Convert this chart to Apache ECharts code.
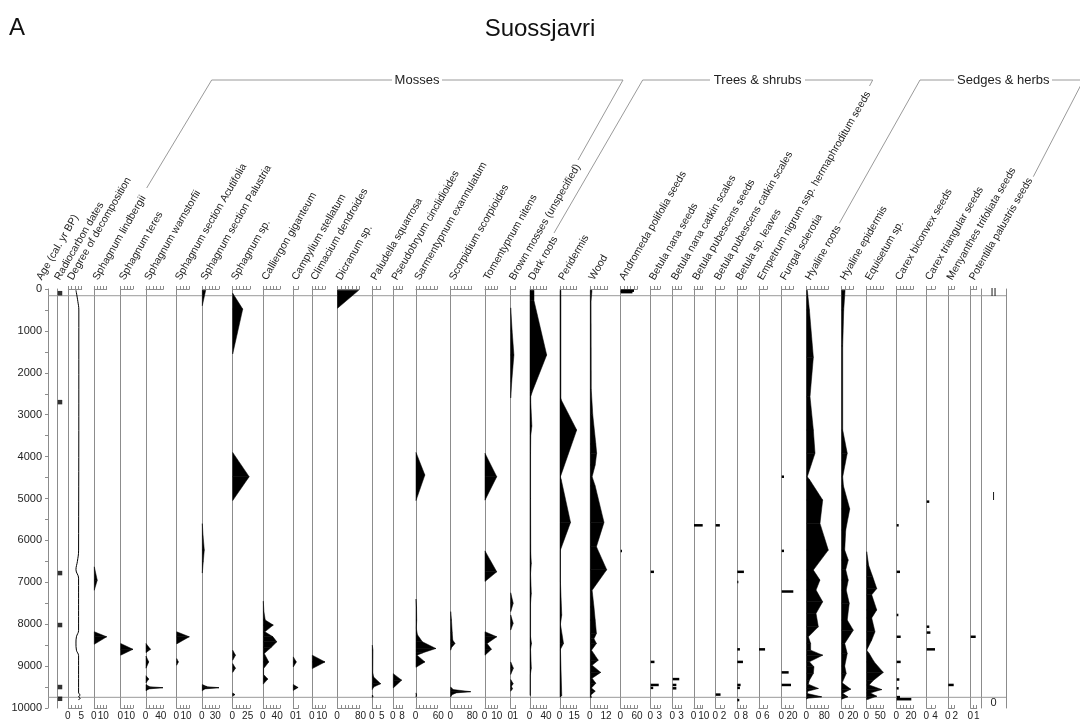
<!DOCTYPE html>
<html><head><meta charset="utf-8">
<script src="https://cdn.jsdelivr.net/npm/echarts@6/dist/echarts.min.js"></script>
<style>html,body{margin:0;padding:0;background:#fff}#c{width:1080px;height:727px}</style>
</head><body><div id="c"></div><script>
// ---------------- DATA (age cal. yr BP, value) ----------------
const ageTickLabels = [0,1000,2000,3000,4000,5000,6000,7000,8000,9000,10000];
const zoneNames = ['II','I','0'];
const zoneAges = [95, 4964, 9880];
const zoneBoundaries = [160, 9745];
const radiocarbonDates = [100, 2700, 6780, 8020, 9500, 9780];
const decomposition = [[30,3.2],[300,4.0],[500,4.4],[6250,4.3],[6500,3.8],[6700,3.2],[6900,4.3],[8150,4.3],[8300,3.4],[8450,3.2],[8620,3.4],[8750,4.3],[9640,4.3],[9690,5.0],[9730,4.3],[9770,5.0],[9800,4.2]];
const sphLindbergii = [[6630,0],[6950,3.7],[7190,0],[8180,0],[8300,15.5],[8480,0]];
const sphTeres = [[8460,0],[8600,16],[8740,0]];
const sphWarnstorfii = [[8460,0],[8600,13],[8680,0],[8760,0],[8900,8],[9050,0],[9230,0],[9310,8],[9400,0],[9440,0],[9490,10],[9515,49],[9545,8],[9590,0]];
const sphAcutifolia = [[8180,0],[8300,15],[8470,0],[8820,0],[8900,2],[8980,0]];
const sphPalustria = [[30,8.5],[400,0],[5600,0],[5900,2],[6230,5],[6500,2.5],[6780,0],[9440,0],[9490,12],[9515,42],[9545,6],[9590,0]];
const sphagnumSp = [[100,0],[480,18],[1550,0],[3900,0],[4480,29.5],[5050,0],[8620,0],[8740,5],[8860,0],[8940,0],[9050,5],[9150,0],[9640,0],[9680,4],[9720,0]];
const calliergon = [[7450,0],[7700,2],[7900,6],[8022,31],[8182,5],[8300,30],[8420,42],[8550,25],[8700,3],[8900,17],[9060,1],[9200,1],[9310,14],[9430,0]];
const campylium = [[8780,0],[8900,0.7],[9020,0],[9440,0],[9510,1.1],[9580,0]];
const climacium = [[8740,0],[8900,15],[9060,0]];
const dicranum = [[30,77],[460,0]];
const paludella = [[8500,0],[8620,0.4],[9150,0.3],[9260,0.8],[9420,5],[9500,0.8],[9560,0],[9690,0],[9720,0.5],[9750,0]];
const pseudobryum = [[9180,0],[9335,8.7],[9520,0]];
const sarmentypnum = [[3900,0],[4440,25],[5050,0],[7400,0],[7600,1.5],[7900,2],[8100,1],[8250,4],[8420,18],[8580,56],[8680,20],[8740,3],[8900,25],[9030,0],[9640,0],[9690,2],[9740,0]];
const scorpidium = [[7700,0],[7900,3],[8200,6],[8380,8],[8460,17],[8560,3],[8620,0],[9500,0],[9560,10],[9610,78],[9640,20],[9690,4],[9740,0]];
const tomentypnum = [[3920,0],[4480,11],[5040,0],[6250,0],[6750,11],[6980,0],[8180,0],[8300,11],[8460,2],[8600,6],[8740,0]];
const brownMosses = [[450,0],[1000,0.4],[1575,0.9],[2200,0.3],[2600,0],[7250,0],[7500,0.7],[7700,0],[7780,0],[7980,0.7],[8140,0],[8900,0],[9050,0.75],[9200,0],[9320,0],[9420,0.7],[9480,0.2],[9540,0.5],[9600,0]];
const darkRoots = [[30,10.7],[280,10.7],[1575,44.5],[2450,6],[2570,2],[2700,2],[3270,5],[3500,2],[3920,1.5],[5000,1.5],[6300,2],[6550,3.5],[6800,1.5],[7270,3.5],[7500,1.5],[8300,1.5],[8460,4],[8600,1.5],[9050,3.5],[9200,1],[9700,1]];
const peridermis = [[30,1],[2600,1],[2650,1.5],[3366,19],[4480,0.5],[4560,1.5],[5570,12],[6230,0.5],[7000,0.5],[7780,2],[8000,0.5],[8460,4],[8600,0.5],[9700,2],[9740,0.5]];
const wood = [[30,1.4],[300,0.6],[2400,0.8],[3000,2],[3700,4.5],[3920,5.2],[4200,4],[4480,1.5],[4700,4],[5570,11.2],[6150,5],[6700,13.4],[7190,1.5],[7590,3],[7900,4],[8220,5],[8350,3],[8460,5],[8620,1],[8860,6.5],[8980,1.5],[9150,8.5],[9290,1.5],[9410,4.5],[9520,1],[9600,4],[9690,0.5],[9750,1]];
const andromedaSeeds = [[40,52],[75,46],[6250,5]];
const betulaNanaSeeds = [[6750,1.3],[8900,1.5],[9450,3.2],[9520,1]];
const betulaNanaCatkin = [[9310,2.7],[9450,1.5],[9530,1.5]];
const betulaPubSeeds = [[5640,10]];
const betulaPubCatkin = [[5640,1.2],[9680,1.4]];
const betulaLeaves = [[6750,7.6],[6990,1.2],[8600,3],[8900,6.5],[9450,3.8],[9520,3],[9810,2.3]];
const empetrumSeeds = [[8600,5.4]];
const fungalSclerotia = [[4480,5],[6250,5],[7220,25],[9150,15],[9450,20]];
const hyalineRoots = [[30,3],[500,13],[1630,32],[2570,16],[3366,32],[3920,40],[4480,3],[4560,15],[5037,77],[5594,64],[6231,104],[6708,32],[6947,64],[7186,45],[7465,77],[7744,45],[8062,56],[8301,8],[8460,19],[8619,19],[8739,77],[8898,13],[9017,35],[9176,32],[9335,13],[9431,8],[9534,56],[9600,5],[9654,3],[9733,72],[9770,3],[9790,0]];
const hyalineEpidermis = [[30,6.7],[500,4],[1360,2],[3366,2],[3920,11],[4480,2],[4700,3.5],[5250,16],[5750,8],[6231,6],[6470,13],[6700,8],[6947,13],[7186,9],[7500,15],[7900,11],[8142,23],[8460,6],[8700,11],[9000,6],[9176,9],[9400,1],[9550,18],[9650,2],[9733,12],[9790,0]];
const equisetum = [[6270,0],[6600,8],[6870,24],[7150,40],[7300,20],[7660,40],[7850,20],[8180,33],[8380,20],[8619,0],[8700,10],[8900,30],[9150,66],[9350,25],[9450,10],[9560,60],[9640,15],[9720,40],[9780,10],[9800,0]];
const carexBiconvex = [[5640,3],[6750,5],[7780,2.5],[8300,6],[8900,6],[9320,4],[9530,3],[9740,5],[9790,22]];
const carexTriangular = [[5075,1.4],[8060,1.4],[8200,2],[8600,4.5]];
const menyanthesSeeds = [[9450,1.8]];
const potentillaSeeds = [[8300,1]];

// ---------------- LAYOUT ----------------
const FONT = '"Liberation Sans", Arial, Helvetica, sans-serif';
const GRAY = '#8c8c8c';
const TXT = '#222';
const TOP = 289, H = 419;

const panels = [
 {name:'Degree of decomposition', kind:'line', data:decomposition, left:68.3, width:13.4, max:5.6, lab:5, hx:75},
 {name:'Sphagnum lindbergii', kind:'area', data:sphLindbergii, left:94.3, width:12.4, max:15.5, lab:10},
 {name:'Sphagnum teres', kind:'area', data:sphTeres, left:120.7, width:12.3, max:16, lab:10},
 {name:'Sphagnum warnstorfii', kind:'area', data:sphWarnstorfii, left:146, width:17.3, max:50, lab:40},
 {name:'Sphagnum section Acutifolia', kind:'area', data:sphAcutifolia, left:176.7, width:12.6, max:15, lab:10},
 {name:'Sphagnum section Palustria', kind:'area', data:sphPalustria, left:202.3, width:16.7, max:42, lab:30},
 {name:'Sphagnum sp.', kind:'area', data:sphagnumSp, left:232.7, width:17.3, max:31, lab:25},
 {name:'Calliergon giganteum', kind:'area', data:calliergon, left:263.3, width:16.7, max:52, lab:40},
 {name:'Campylium stellatum', kind:'area', data:campylium, left:293.3, width:5, max:1.15, lab:1},
 {name:'Climacium dendroides', kind:'area', data:climacium, left:312.3, width:12.7, max:15, lab:10},
 {name:'Dicranum sp.', kind:'area', data:dicranum, left:337.5, width:22, max:80, lab:80},
 {name:'Paludella squarrosa', kind:'area', data:paludella, left:372.3, width:8.4, max:5, lab:5},
 {name:'Pseudobryum cinclidioides', kind:'area', data:pseudobryum, left:393.3, width:9.4, max:9.8, lab:8},
 {name:'Sarmentypnum exannulatum', kind:'area', data:sarmentypnum, left:416, width:21.3, max:60, lab:60},
 {name:'Scorpidium scorpioides', kind:'area', data:scorpidium, left:450.7, width:21, max:82, lab:80},
 {name:'Tomentypnum nitens', kind:'area', data:tomentypnum, left:485, width:12.3, max:11.5, lab:10},
 {name:'Brown mosses (unspecified)', kind:'area', data:brownMosses, left:510.7, width:5, max:1.4, lab:1},
 {name:'Dark roots', kind:'area', data:darkRoots, left:530, width:16.7, max:44.5, lab:40},
 {name:'Peridermis', kind:'area', data:peridermis, left:560, width:16.7, max:19, lab:15},
 {name:'Wood', kind:'area', data:wood, left:590.3, width:17.4, max:14.2, lab:12},
 {name:'Andromeda polifolia seeds', kind:'bar', data:andromedaSeeds, left:620.7, width:16.6, max:65, lab:60},
 {name:'Betula nana seeds', kind:'bar', data:betulaNanaSeeds, left:650.7, width:9.3, max:3.7, lab:3},
 {name:'Betula nana catkin scales', kind:'bar', data:betulaNanaCatkin, left:672.7, width:9, max:3.7, lab:3},
 {name:'Betula pubescens seeds', kind:'bar', data:betulaPubSeeds, left:694, width:8.7, max:10, lab:10},
 {name:'Betula pubescens catkin scales', kind:'bar', data:betulaPubCatkin, left:715.7, width:8.3, max:2.4, lab:2},
 {name:'Betula sp. leaves', kind:'bar', data:betulaLeaves, left:737.3, width:8.7, max:10, lab:8},
 {name:'Empetrum nigrum ssp. hermaphroditum seeds', kind:'bar', data:empetrumSeeds, left:759, width:8.3, max:7.4, lab:6},
 {name:'Fungal sclerotia', kind:'bar', data:fungalSclerotia, left:781.7, width:11.6, max:25, lab:20},
 {name:'Hyaline roots', kind:'area', data:hyalineRoots, left:806.7, width:21.6, max:104, lab:80},
 {name:'Hyaline epidermis', kind:'area', data:hyalineEpidermis, left:841.7, width:11.6, max:23, lab:20},
 {name:'Equisetum sp.', kind:'area', data:equisetum, left:866.7, width:16.6, max:66, lab:50},
 {name:'Carex biconvex seeds', kind:'bar', data:carexBiconvex, left:896.7, width:16.6, max:25, lab:20},
 {name:'Carex triangular seeds', kind:'bar', data:carexTriangular, left:926.7, width:8.3, max:4.5, lab:4},
 {name:'Menyanthes trifoliata seeds', kind:'bar', data:menyanthesSeeds, left:948.3, width:6, max:2, lab:2},
 {name:'Potentilla palustris seeds', kind:'bar', data:potentillaSeeds, left:970.7, width:6, max:1.2, lab:1}
];

const grids = [], xAxes = [], yAxes = [], series = [];
function addGrid(left, width){ grids.push({left:left, top:TOP, width:width, height:H}); return grids.length-1; }
function plainY(gi, showLine, pos){
  yAxes.push({type:'value', gridIndex:gi, inverse:true, min:0, max:10000, position:pos||'left',
    axisLine:{show:showLine, onZero:false, lineStyle:{color:GRAY, width:1}},
    axisTick:{show:false}, axisLabel:{show:false}, splitLine:{show:false}});
  return yAxes.length-1;
}
function plainX(gi, max){
  xAxes.push({type:'value', gridIndex:gi, min:0, max:max, show:false, splitLine:{show:false}});
  return xAxes.length-1;
}
function rulerTicks(max, width){
  const n = Math.max(1, Math.round(width/3.4)); const t = [];
  for (let i=0;i<=n;i++) t.push(+(max*i/n).toFixed(5));
  return t;
}

// overlay grid: age axis + zone boundary lines
const gO = addGrid(48, 958);
const xO = plainX(gO, 1);
yAxes.push({type:'value', gridIndex:gO, inverse:true, min:0, max:10000, interval:500, position:'left',
  axisLine:{show:true, onZero:false, lineStyle:{color:GRAY}},
  axisTick:{show:true, length:3, lineStyle:{color:GRAY}},
  axisLabel:{customValues:ageTickLabels, color:TXT, fontSize:11, fontFamily:FONT, margin:6,
    formatter:function(v){ return String(v); }},
  splitLine:{show:false}});
const yO = yAxes.length-1;
zoneBoundaries.forEach(function(a){
  series.push({type:'line', xAxisIndex:xO, yAxisIndex:yO, data:[[0,a],[1,a]], symbol:'none', silent:true,
    lineStyle:{color:'#9a9a9a', width:1}, z:1});
});

// radiocarbon dates
const gR = addGrid(57, 6);
const xR = plainX(gR, 1), yR = plainY(gR, true);
series.push({type:'scatter', xAxisIndex:xR, yAxisIndex:yR, symbol:'rect', symbolSize:4.5,
  itemStyle:{color:'#000'}, data:radiocarbonDates.map(function(a){return [0.5,a];}), z:3});

// zone column
const gZ = addGrid(981, 25);
const xZ = plainX(gZ, 1), yZ1 = plainY(gZ, true, 'left');
plainY(gZ, true, 'right');
series.push({type:'custom', coordinateSystem:'cartesian2d', xAxisIndex:xZ, yAxisIndex:yZ1,
  data:zoneAges.map(function(a){return [0.5,a];}),
  renderItem:function(params, api){
    const p = api.coord([api.value(0), api.value(1)]);
    return {type:'text', x:p[0], y:p[1], style:{text:zoneNames[params.dataIndex], fill:TXT, font:'11px '+FONT,
      textAlign:'center', textVerticalAlign:'middle', align:'center', verticalAlign:'middle'}};
  }, z:3});

function areaItem(params, api){
  const v0 = api.value(0), a0 = api.value(1), v1 = api.value(2), a1 = api.value(3);
  const pts = [api.coord([0,a0]), api.coord([v0,a0]), api.coord([v1,a1]), api.coord([0,a1])];
  return {type:'polygon', shape:{points:pts}, style:{fill:'#000', stroke:'#000', lineWidth:0.5}};
}
function barItem(params, api){
  const v = api.value(0), a = api.value(1);
  const p0 = api.coord([0,a]), p1 = api.coord([v,a]);
  return {type:'rect', shape:{x:p0[0], y:p0[1]-1.25, width:Math.max(1,p1[0]-p0[0]), height:2.5}, style:{fill:'#000'}};
}
function labelAxis(gi, max, value, pad){
  xAxes.push({type:'value', gridIndex:gi, min:0, max:max, position:'bottom', offset:0,
    axisLine:{show:false, onZero:false}, axisTick:{show:false},
    axisLabel:{show:true, customValues:[value], color:TXT, fontSize:10, fontFamily:FONT, margin:3, padding:pad,
      showMinLabel:true, showMaxLabel:true, hideOverlap:false},
    splitLine:{show:false}});
}

panels.forEach(function(p){
  const gi = addGrid(p.left, p.width);
  const ticks = rulerTicks(p.max, p.width);
  xAxes.push({type:'value', gridIndex:gi, min:0, max:p.max, position:'bottom',
    axisLine:{show:true, onZero:false, lineStyle:{color:GRAY}},
    axisTick:{show:true, inside:true, length:3, customValues:ticks, lineStyle:{color:GRAY}},
    axisLabel:{show:false}, splitLine:{show:false}});
  const xb = xAxes.length-1;
  labelAxis(gi, p.max, 0, [0,1,0,0]);
  labelAxis(gi, p.max, p.lab, [0,0,0,2]);
  xAxes.push({type:'value', gridIndex:gi, min:0, max:p.max, position:'top',
    axisLine:{show:true, onZero:false, lineStyle:{color:GRAY}},
    axisTick:{show:true, inside:false, length:3, customValues:ticks, lineStyle:{color:GRAY}},
    axisLabel:{show:false}, splitLine:{show:false}});
  const yi = plainY(gi, true);
  if (p.kind === 'line') {
    series.push({type:'line', xAxisIndex:xb, yAxisIndex:yi, data:p.data.map(function(d){return [d[1],d[0]];}),
      symbol:'none', smooth:0.4, lineStyle:{color:'#000', width:1}, z:3});
  } else if (p.kind === 'area') {
    const segs = [];
    for (let i=0;i<p.data.length-1;i++){
      const a = p.data[i], b = p.data[i+1];
      if (a[1] === 0 && b[1] === 0) continue;
      segs.push([a[1], a[0], b[1], b[0]]);
    }
    series.push({type:'custom', coordinateSystem:'cartesian2d', xAxisIndex:xb, yAxisIndex:yi,
      encode:{x:[0,2], y:[1,3]}, data:segs, renderItem:areaItem, z:3});
  } else {
    series.push({type:'custom', coordinateSystem:'cartesian2d', xAxisIndex:xb, yAxisIndex:yi,
      encode:{x:0, y:1}, data:p.data.map(function(d){return [d[1],d[0]];}), renderItem:barItem, z:3});
  }
});

// ---------------- header labels & group brackets ----------------
const headers = [{name:'Age (cal. yr BP)', x:44}, {name:'Radiocarbon dates', x:62}].concat(
  panels.map(function(p){ return {name:p.name, x:(p.hx !== undefined ? p.hx : p.left + 6)}; }));
const graphics = headers.map(function(h){
  return {type:'text', x:h.x, y:282, rotation:Math.PI/3,
    style:{text:h.name, fill:TXT, font:'10.5px '+FONT, textAlign:'left', textVerticalAlign:'bottom', align:'left', verticalAlign:'bottom'}};
});
const groups = [
  {name:'Mosses', cx:417, left:[[146.7,188],[211.7,80],[392,80]], right:[[442,80],[623,80],[578,160]]},
  {name:'Trees & shrubs', cx:757.7, left:[[554,233],[642.7,80],[710,80]], right:[[805,80],[872.7,80],[869.5,86]]},
  {name:'Sedges & herbs', cx:1003.3, left:[[839.3,223.3],[920,80],[954,80]], right:[[1052,80],[1083.5,80],[1033.3,176.7]]}
];
groups.forEach(function(g){
  graphics.push({type:'text', x:g.cx, y:80, style:{text:g.name, fill:TXT, font:'13px '+FONT, textAlign:'center', textVerticalAlign:'middle', align:'center', verticalAlign:'middle'}});
  [g.left, g.right].forEach(function(pts){
    graphics.push({type:'polyline', shape:{points:pts}, style:{stroke:'#9a9a9a', lineWidth:1, fill:null}});
  });
});

const chart = echarts.init(document.getElementById('c'), null, {renderer:'canvas'});
chart.setOption({
  animation:false,
  backgroundColor:'#fff',
  title:[
    {text:'A', left:9, top:16, padding:0, textStyle:{fontSize:24, fontWeight:'normal', color:'#111', fontFamily:FONT}},
    {text:'Suossjavri', left:'center', top:17, padding:0, textStyle:{fontSize:24, fontWeight:'normal', color:'#111', fontFamily:FONT}}
  ],
  grid:grids, xAxis:xAxes, yAxis:yAxes, series:series,
  graphic:{elements:graphics}
});
</script></body></html>
